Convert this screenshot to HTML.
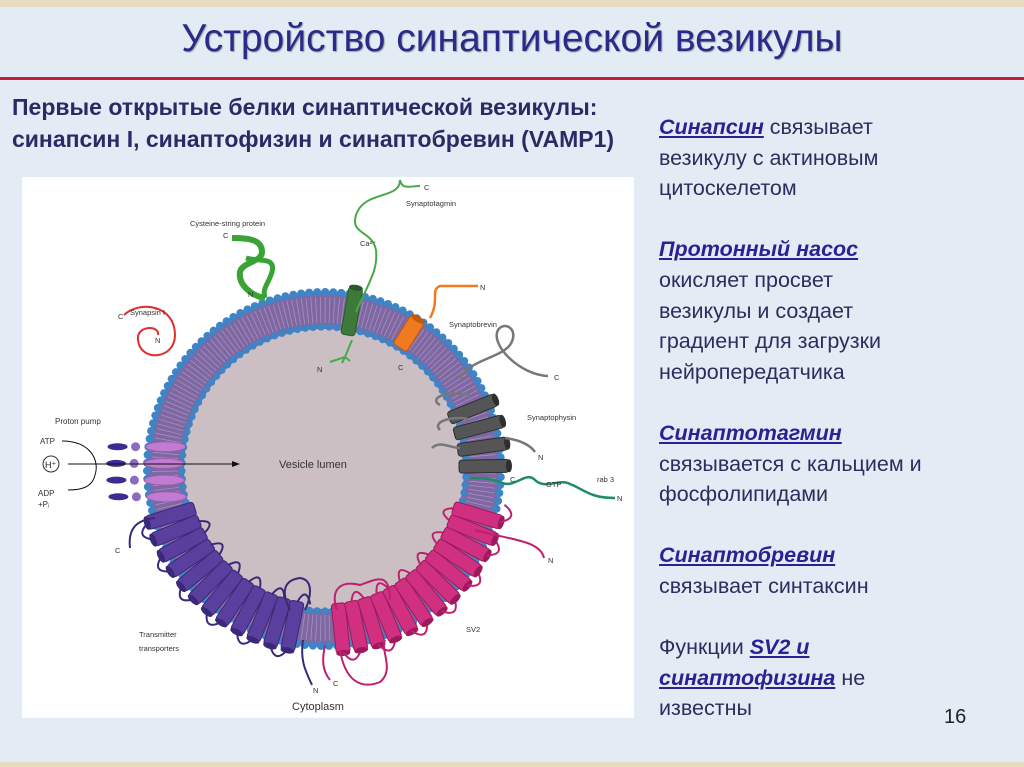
<!DOCTYPE html>
<html><head><meta charset="utf-8">
<style>
html,body{margin:0;padding:0}
body{width:1024px;height:767px;position:relative;overflow:hidden;background:#e3ecf4;font-family:"Liberation Sans","DejaVu Sans",sans-serif}
.top{position:absolute;left:0;top:0;width:1024px;height:7px;background:#e8dcc0}
.bot{position:absolute;left:0;top:762px;width:1024px;height:5px;background:#e8dcc0}
.title{position:absolute;left:0;width:1024px;top:17px;text-align:center;font-size:39px;color:#2b2a8a;text-shadow:1px 1px 1px #9aa}
.red{position:absolute;left:0;top:77px;width:1024px;height:3px;background:#c4203a}
.lh{position:absolute;left:12px;top:91px;font-weight:bold;font-size:23px;line-height:32px;color:#2c2a66}
.rt{position:absolute;left:659px;top:112px;font-size:21.5px;line-height:30.6px;color:#2f2c5e}
.rt b{color:#2a2294;font-style:italic;text-decoration:underline}
.pn{position:absolute;left:944px;top:706px;font-size:20px;color:#222}
svg{position:absolute;left:0;top:0}
</style></head><body>
<div class="top"></div><div class="bot"></div>
<div class="title">Устройство синаптической везикулы</div>
<div class="red"></div>
<div class="lh">Первые открытые белки синаптической везикулы:<br>синапсин I, синаптофизин и синаптобревин (VAMP1)</div>
<div class="rt"><b>Синапсин</b> связывает<br>везикулу с актиновым<br>цитоскелетом<br><br><b>Протонный насос</b><br>окисляет просвет<br>везикулы и создает<br>градиент для загрузки<br>нейропередатчика<br><br><b>Синаптотагмин</b><br>связывается с кальцием и<br>фосфолипидами<br><br><b>Синаптобревин</b><br>связывает синтаксин<br><br>Функции <b>SV2 и<br>синаптофизина</b> не<br>известны</div>
<div class="pn">16</div>
<svg id="s" width="1024" height="767" font-family="Liberation Sans, sans-serif">
<rect x="22" y="177" width="612" height="541" fill="#fff"/>
<g id="g"></g>
</svg>
<script>
var NS="http://www.w3.org/2000/svg",g=document.getElementById('g');
function el(t,a){var e=document.createElementNS(NS,t);for(var k in a)e.setAttribute(k,a[k]);g.appendChild(e);return e}
function tx(x,y,s,fs,c){var e=el('text',{x:x,y:y,'font-size':fs||8,fill:c||'#333'});e.textContent=s;return e}
var cx=324,cy=469;
el('circle',{cx:cx,cy:cy,r:142,fill:'#cbbfc3'});
el('circle',{cx:cx,cy:cy,r:159,fill:'none',stroke:'#7f68a2','stroke-width':38});
for(var a=0;a<360;a+=1.6){var t=a*Math.PI/180,c=Math.cos(t),s=Math.sin(t);
el('line',{x1:cx+146*c,y1:cy+146*s,x2:cx+172*c,y2:cy+172*s,stroke:'#a995c4','stroke-width':0.7});}
for(var a=0;a<360;a+=2.6){var t=a*Math.PI/180,c=Math.cos(t),s=Math.sin(t);
el('circle',{cx:cx+177*c,cy:cy+177*s,r:4,fill:'#3d85c6'});}
for(var a=0;a<360;a+=3.2){var t=a*Math.PI/180,c=Math.cos(t),s=Math.sin(t);
el('circle',{cx:cx+142*c,cy:cy+142*s,r:3.6,fill:'#3d85c6'});}
function cyl(a,col,dark,len,w){var x=cx+160*Math.cos(a*Math.PI/180),y=cy+160*Math.sin(a*Math.PI/180);
var gg=el('g',{transform:'translate('+x+','+y+') rotate('+a+')'});
var r=document.createElementNS(NS,'rect');r.setAttribute('x',-len/2);r.setAttribute('y',-w/2);r.setAttribute('width',len);r.setAttribute('height',w);r.setAttribute('rx',3);r.setAttribute('fill',col);r.setAttribute('stroke',dark);gg.appendChild(r);
var e=document.createElementNS(NS,'ellipse');e.setAttribute('cx',len/2);e.setAttribute('cy',0);e.setAttribute('rx',3);e.setAttribute('ry',w/2);e.setAttribute('fill',dark);gg.appendChild(e);}
function loop(a1,a2,rad,col){var t1=a1*Math.PI/180,t2=a2*Math.PI/180,tm=(t1+t2)/2;
var p1=[cx+rad*Math.cos(t1),cy+rad*Math.sin(t1)],p2=[cx+rad*Math.cos(t2),cy+rad*Math.sin(t2)];var rr=rad>160?rad+18:rad-18;
var q=[cx+rr*Math.cos(tm),cy+rr*Math.sin(tm)];
el('path',{d:'M'+p1+' Q'+q+' '+p2,fill:'none',stroke:col,'stroke-width':2});}
var i=0;for(var a=163;a>=97;a-=5.6){cyl(a,'#5b3f9e','#3a2878',50,14);
 if(i%2==0)loop(a,a-5.6,184,'#3a2878');else loop(a,a-5.6,136,'#3a2878');i++;}
i=0;for(var a=84;a>=14;a-=5.6){cyl(a,'#d0307f','#9c1a5c',50,14);
 if(i%2==0)loop(a,a-5.6,184,'#c01e6e');else loop(a,a-5.6,136,'#c01e6e');i++;}
[-22,-15,-8,-1].forEach(function(a){cyl(a,'#555','#2e2e2e',50,13)});
[170,176,182,188].forEach(function(a){var t=a*Math.PI/180;var x=cx+160*Math.cos(t),y=cy+160*Math.sin(t);
el('ellipse',{cx:x,cy:y,rx:20,ry:5,fill:'#c07cd0',stroke:'#9c5ab0'});el('circle',{cx:x-30,cy:y,r:4.5,fill:'#8c6cc0'});el('ellipse',{cx:x-48,cy:y,rx:10,ry:3.5,fill:'#3e2a90'});});
cyl(-80,'#3d7a3a','#2a5a28',48,14);
el('path',{d:'M356,312 C370,280 378,270 376,250 C372,230 350,235 356,215 C364,190 400,200 400,180 C402,190 410,186 420,186',fill:'none',stroke:'#49a84a','stroke-width':2});
el('path',{d:'M352,340 L345,357 L330,362 M345,357 l-3,6 m3,-6 l5,4',fill:'none',stroke:'#49a84a','stroke-width':2});
cyl(-58,'#f07a20','#c05a10',34,16);
el('path',{d:'M430,318 C440,300 430,290 440,286 L478,286',fill:'none',stroke:'#f07a20','stroke-width':2.5});
el('path',{d:'M232,238 C250,238 262,240 262,252 C262,262 242,262 240,272 C238,285 252,296 265,298',fill:'none',stroke:'#3aa336','stroke-width':6});
el('path',{d:'M246,258 C258,262 276,256 272,272 C268,285 262,288 265,298',fill:'none',stroke:'#3aa336','stroke-width':5});
el('path',{d:'M124,315 C140,300 175,305 175,335 C175,360 140,362 138,340 C136,325 160,325 158,335',fill:'none',stroke:'#e02c2c','stroke-width':2});
el('path',{d:'M460,378 C470,360 500,358 510,345 C520,330 505,320 498,330 C490,345 520,375 548,376',fill:'none',stroke:'#777','stroke-width':2.5});
el('path',{d:'M440,405 C430,400 440,390 470,395 M440,430 C430,420 460,415 470,420 M432,448 C440,440 450,448 460,448 M505,438 C520,440 530,445 535,452',fill:'none',stroke:'#777','stroke-width':2.5});
el('path',{d:'M470,478 C480,478 490,478 500,482 C515,490 525,470 535,480 C545,490 560,478 570,484 C585,490 590,498 615,498',fill:'none',stroke:'#208a6a','stroke-width':2.5});
el('path',{d:'M155,518 C135,520 128,530 130,548',fill:'none',stroke:'#3a2878','stroke-width':2});
el('path',{d:'M475,530 C510,540 540,540 544,558',fill:'none',stroke:'#c01e6e','stroke-width':2});
el('path',{d:'M303,640 C300,660 305,670 312,685',fill:'none',stroke:'#3a2878','stroke-width':2});
el('path',{d:'M325,645 C322,660 322,670 330,680 M340,650 C345,680 360,690 380,682 C395,670 380,650 385,640',fill:'none',stroke:'#c01e6e','stroke-width':2});
el('path',{d:'M290,610 C280,590 285,580 300,578 C315,580 310,600 305,610',fill:'none',stroke:'#3a2878','stroke-width':2});
el('path',{d:'M337,610 C330,590 340,580 360,585 C375,580 390,570 390,600',fill:'none',stroke:'#c01e6e','stroke-width':2});
el('path',{d:'M68,464 L232,464',stroke:'#111','stroke-width':1});
el('path',{d:'M232,461 L240,464 L232,467z',fill:'#111'});
el('path',{d:'M62,441 C90,441 100,460 95,475 C92,488 80,490 68,490',fill:'none',stroke:'#111','stroke-width':1});
el('circle',{cx:51,cy:464,r:8,fill:'#fff',stroke:'#333'});
tx(45,468,'H⁺',9,'#222');
tx(40,444,'ATP',8);tx(38,496,'ADP',8);tx(38,507,'+Pᵢ',8);
tx(55,424,'Proton pump',8);
tx(279,468,'Vesicle lumen',11,'#333');
tx(292,710,'Cytoplasm',11,'#333');
tx(190,226,'Cysteine-string protein',7.5);tx(223,238,'C',7.5);tx(248,297,'N',7.5);
tx(406,206,'Synaptotagmin',7.5);tx(424,190,'C',7.5);tx(360,246,'Ca²⁺',7.5);tx(317,372,'N',7.5);
tx(130,315,'Synapsin I',7.5);tx(118,319,'C',7.5);tx(155,343,'N',7.5);
tx(449,327,'Synaptobrevin',7.5);tx(480,290,'N',7.5);tx(398,370,'C',7.5);
tx(527,420,'Synaptophysin',7.5);tx(554,380,'C',7.5);tx(538,460,'N',7.5);
tx(510,482,'C',7.5);tx(546,487,'GTP',7.5);tx(597,482,'rab 3',7.5);tx(617,501,'N',7.5);
tx(115,553,'C',7.5);tx(548,563,'N',7.5);
tx(139,637,'Transmitter',7.5);tx(139,651,'transporters',7.5);
tx(466,632,'SV2',7.5);tx(313,693,'N',7.5);tx(333,686,'C',7.5);
</script>
</body></html>
